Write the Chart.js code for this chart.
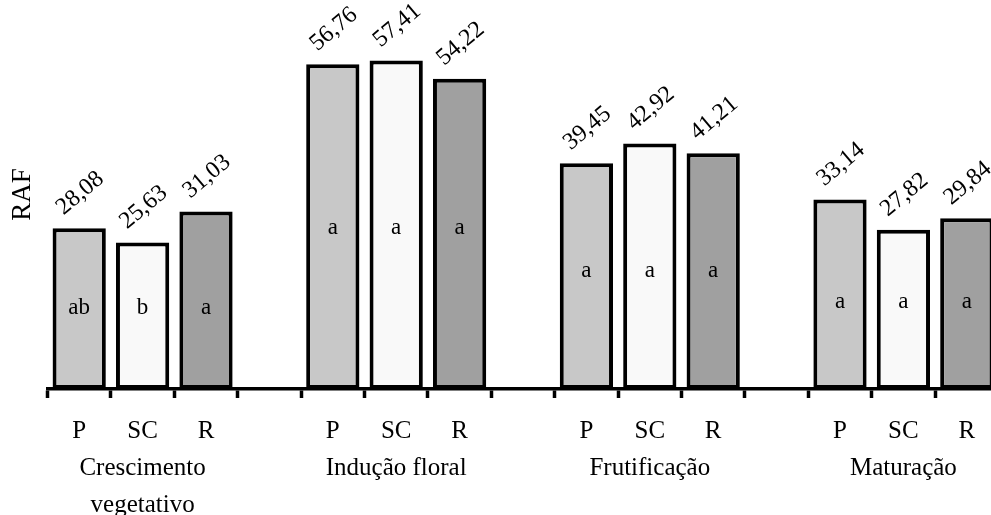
<!DOCTYPE html>
<html>
<head>
<meta charset="utf-8">
<script src="https://cdn.jsdelivr.net/npm/chart.js@4/dist/chart.umd.min.js"></script>
<style>
body{margin:0;overflow:hidden;background:#fff}
</style>
</head>
<body>
<canvas id="myChart" width="1000" height="515"></canvas>
<script>
const groups=[['Crescimento','vegetativo'],['Indução floral'],['Frutificação'],['Maturação']]
const treatments=['P','SC','R']
const valuesP=[28.08,56.76,39.45,33.14]
const valuesSC=[25.63,57.41,42.92,27.82]
const valuesR=[31.03,54.22,41.21,29.84]
const lettersP=['ab','a','a','a']
const lettersSC=['b','a','a','a']
const lettersR=['a','a','a','a']
const barColors=['#c8c8c8','#f9f9f9','#a0a0a0']
const serif='"Liberation Serif", "Times New Roman", serif'

// 3 bars per group, one empty slot between groups
let labels=[], values=[], colors=[], letters=[], letterPos=[]
groups.forEach((g,i)=>{
  if(i>0){
    labels.push(''); values.push(null); colors.push('#fff'); letters.push(''); letterPos.push(0)
  }
  const v=[valuesP[i],valuesSC[i],valuesR[i]]
  const l=[lettersP[i],lettersSC[i],lettersR[i]]
  const mean=(v[0]+v[1]+v[2])/3
  treatments.forEach((t,j)=>{
    labels.push(j==1 ? [t].concat(g) : t)
    values.push(v[j])
    colors.push(barColors[j])
    letters.push(l[j])
    letterPos.push(mean/2)
  })
})

const barText={
  id:'barText',
  afterDatasetsDraw(chart){
    const ctx=chart.ctx
    const yScale=chart.scales.y
    chart.getDatasetMeta(0).data.forEach((bar,i)=>{
      if(values[i]==null) return
      ctx.save()
      ctx.fillStyle='#000'
      ctx.textAlign='center'
      ctx.textBaseline='middle'
      ctx.font='24px '+serif
      ctx.translate(bar.x+1,bar.y-35)
      ctx.rotate(-40*Math.PI/180)
      ctx.fillText(values[i].toFixed(2).replace('.',','),0,0)
      ctx.restore()

      ctx.save()
      ctx.fillStyle='#000'
      ctx.textAlign='center'
      ctx.textBaseline='middle'
      ctx.font='23px '+serif
      ctx.fillText(letters[i],bar.x,yScale.getPixelForValue(letterPos[i]))
      ctx.restore()
    })
  }
}

new Chart("myChart",{
  type:"bar",
  data:{
    labels:labels,
    datasets:[{
      data:values,
      backgroundColor:colors,
      borderColor:'#000',
      borderWidth:4,
      borderSkipped:false,
      barPercentage:0.84,
      categoryPercentage:1
    }]
  },
  options:{
    responsive:false,
    animation:false,
    devicePixelRatio:1,
    layout:{padding:{left:7,right:1.5,top:0,bottom:0}},
    plugins:{legend:{display:false},tooltip:{enabled:false}},
    scales:{
      x:{
        offset:true,
        grid:{offset:true,drawOnChartArea:false,drawTicks:true,tickLength:9,tickWidth:3.5,tickColor:'#000',color:'#000'},
        border:{display:true,width:3.5,color:'#000'},
        ticks:{color:'#000',autoSkip:false,maxRotation:0,padding:15,font:{family:serif,size:25,lineHeight:37/25}},
        afterFit(scale){scale.height=126}
      },
      y:{
        min:0,
        max:68,
        grid:{display:false,drawTicks:false},
        border:{display:false},
        ticks:{display:false},
        title:{display:true,text:'RAF',color:'#000',padding:{top:0,bottom:0},font:{family:serif,size:27}},
        afterFit(scale){scale.width=40.5}
      }
    }
  },
  plugins:[barText]
})
</script>
</body>
</html>
